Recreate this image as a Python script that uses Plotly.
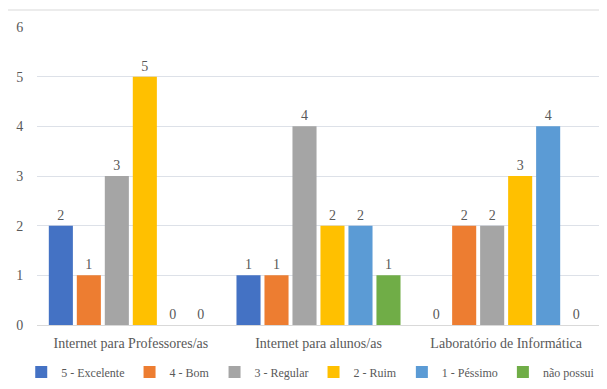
import plotly.graph_objects as go

categories = ["Internet para Professores/as", "Internet para alunos/as", "Laboratório de Informática"]
series_names = ["5 - Excelente", "4 - Bom", "3 - Regular", "2 - Ruim", "1 - Péssimo", "não possui"]
excelente = [2, 1, 0]
bom = [1, 1, 2]
regular = [3, 4, 2]
ruim = [5, 2, 3]
pessimo = [0, 2, 4]
nao_possui = [0, 1, 0]
y_ticks = [0, 1, 2, 3, 4, 5, 6]

series_values = [excelente, bom, regular, ruim, pessimo, nao_possui]
colors = ["#4472C4", "#ED7D31", "#A5A5A5", "#FFC000", "#5B9BD5", "#70AD47"]
font_family = "Liberation Serif, Times New Roman, serif"
text_color = "#595959"

fig = go.Figure()
for name, vals, color in zip(series_names, series_values, colors):
    fig.add_trace(go.Bar(
        name=name, x=categories, y=vals,
        marker=dict(color=color, line=dict(width=0)),
        text=vals, textposition="outside", cliponaxis=False,
        textfont=dict(family=font_family, size=14, color=text_color),
    ))

# outer chart border (light grey frame around the whole chart)
fig.add_shape(type="rect", xref="paper", yref="paper",
              x0=-0.0533, x1=1.05, y0=-0.4, y1=1.057,
              line=dict(color="#D9D9D9", width=1), layer="below")

# the page body has an 8px margin, so the margins are shifted by -8
fig.update_layout(
    width=607, height=389,
    barmode="group", bargap=0.105, bargroupgap=0.14,
    plot_bgcolor="white", paper_bgcolor="white",
    margin=dict(l=29, r=15, t=19, b=72, autoexpand=False),
    font=dict(family=font_family, size=14, color=text_color),
    showlegend=True,
    legend=dict(orientation="h", x=-0.028, xanchor="left", y=-0.158, yanchor="middle",
                bgcolor="rgba(0,0,0,0)",
                font=dict(family=font_family, size=12, color=text_color),
                itemwidth=30, traceorder="normal"),
    xaxis=dict(showgrid=False, showline=True, linecolor="#D9D9D9",
               ticks="outside", ticklen=5, tickcolor="rgba(0,0,0,0)",
               tickfont=dict(family=font_family, size=14, color=text_color)),
    yaxis=dict(range=[0, 6], tickvals=y_ticks, showgrid=True, gridcolor="#DDE1E8",
               zeroline=False, showline=False,
               ticks="outside", ticklen=10, tickcolor="rgba(0,0,0,0)",
               tickfont=dict(family=font_family, size=14, color=text_color)),
)

fig.write_html("out.html")
